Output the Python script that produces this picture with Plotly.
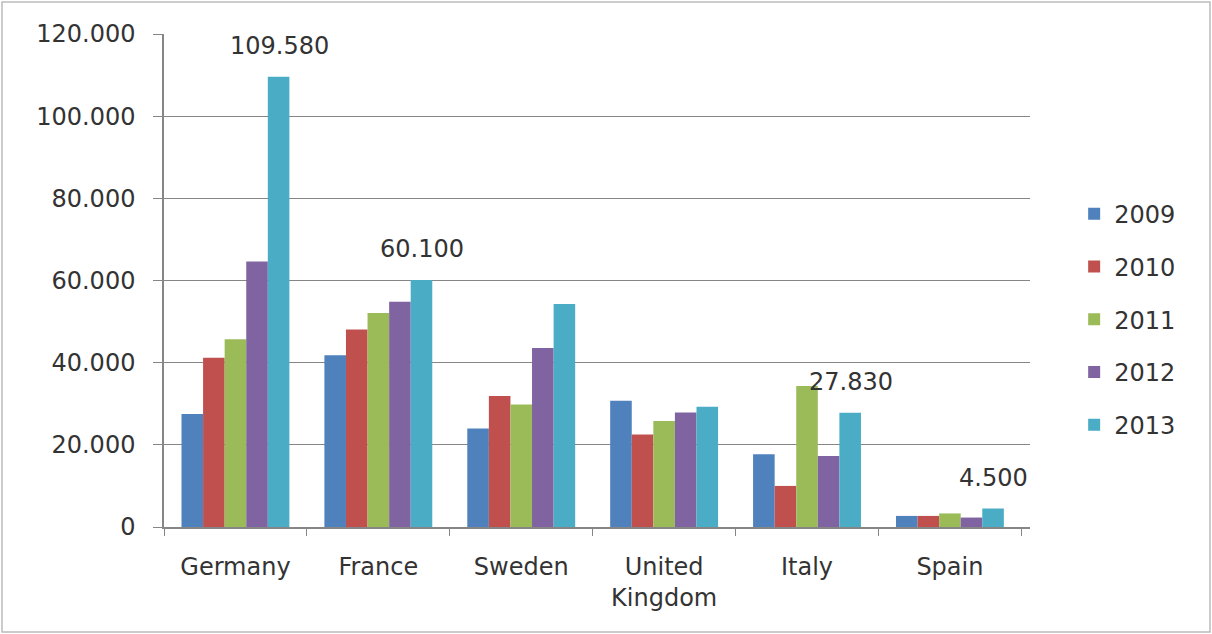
import plotly.graph_objects as go

countries = ["Germany", "France", "Sweden", "United<br>Kingdom", "Italy", "Spain"]
years = ["2009", "2010", "2011", "2012", "2013"]
v2009 = [27500, 41800, 24000, 30700, 17700, 2700]
v2010 = [41200, 48100, 31900, 22500, 10000, 2700]
v2011 = [45700, 52100, 29800, 25800, 34300, 3300]
v2012 = [64600, 54800, 43600, 27900, 17300, 2300]
v2013 = [109580, 60100, 54300, 29300, 27830, 4500]
series = [v2009, v2010, v2011, v2012, v2013]
colors = ["#4F81BD", "#C0504D", "#9BBB59", "#8064A2", "#4BACC6"]
labelled = ["Germany", "France", "Italy", "Spain"]
y_ticks = [0, 20000, 40000, 60000, 80000, 100000, 120000]

W, H = 1212, 634
ML, MR, MT, MB = 164, 182, 34, 107
BARGAP = 0.245
FONT = "DejaVu Sans"
TXT = "#333333"
AX = "#868686"

fig = go.Figure()
for yr, vals, col in zip(years, series, colors):
    fig.add_trace(go.Bar(
        x=countries, y=vals, name=yr, marker_color=col,
        marker_line_width=0, legendgroup=yr,
    ))

plot_w = W - ML - MR
bar_w = plot_w / len(countries) * (1 - BARGAP) / len(years)
for c, v in zip(countries, v2013):
    if c in labelled:
        fig.add_annotation(
            x=c, y=v, text=f"{v:,}".replace(",", "."),
            showarrow=False, xshift=2 * bar_w, yshift=31,
            xanchor="center", yanchor="middle",
            font=dict(family=FONT, size=24, color=TXT),
        )

# outer frame
pw, ph = plot_w, H - MT - MB
fig.add_shape(type="rect", xref="paper", yref="paper",
              x0=(2 - ML) / pw, x1=(W - 2 - ML) / pw,
              y0=(H - MB - (H - 2)) / ph, y1=(H - MB - 2) / ph,
              line=dict(color="#bcbcbc", width=1.5), fillcolor="rgba(0,0,0,0)", layer="below")

fig.update_layout(
    width=W, height=H,
    margin=dict(l=ML, r=MR, t=MT, b=MB, pad=0),
    paper_bgcolor="white", plot_bgcolor="white",
    barmode="group", bargap=BARGAP, bargroupgap=0,
    separators=",.",
    font=dict(family=FONT, size=24, color=TXT),
    legend=dict(
        x=1.051, y=0.68, xanchor="left", yanchor="top",
        font=dict(family=FONT, size=24, color=TXT),
        tracegroupgap=18.5, bgcolor="rgba(0,0,0,0)",
    ),
    xaxis=dict(
        showline=True, linecolor=AX, linewidth=1.5,
        ticks="outside", tickson="boundaries", ticklen=7, tickcolor=AX,
        showgrid=False, ticklabelstandoff=17,
        tickfont=dict(family=FONT, size=24, color=TXT),
    ),
    yaxis=dict(
        range=[0, 120000], tickvals=y_ticks, tickformat=",d",
        showline=True, linecolor=AX, linewidth=1.5,
        ticks="outside", ticklen=9, tickcolor=AX,
        showgrid=True, gridcolor=AX, gridwidth=1.2, zeroline=False,
        ticklabelstandoff=13,
        tickfont=dict(family=FONT, size=24, color=TXT),
    ),
)

fig.write_html("out.html")
